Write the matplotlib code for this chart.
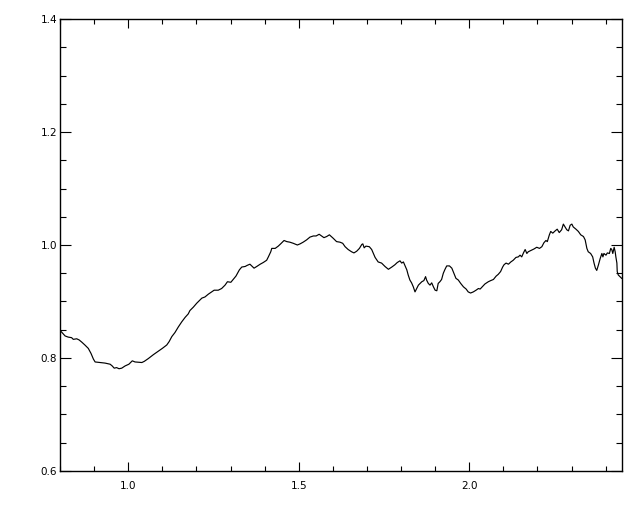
import matplotlib
matplotlib.use('Agg')
import matplotlib.pyplot as plt
from matplotlib.ticker import MultipleLocator

# spectrum
wave = [0.800, 0.803, 0.815, 0.824, 0.834, 0.839, 0.849, 0.856, 0.864, 0.873, 0.883,
        0.891, 0.898, 0.903, 0.917, 0.932, 0.947, 0.953, 0.959, 0.966, 0.973,
        0.981, 0.991, 1.002, 1.012, 1.020, 1.040, 1.047, 1.059, 1.074, 1.088,
        1.100, 1.113, 1.120, 1.128, 1.137, 1.147, 1.157, 1.167, 1.176,
        1.181, 1.191, 1.201, 1.216, 1.225, 1.235, 1.245, 1.252, 1.264, 1.274,
        1.284, 1.291, 1.301, 1.308, 1.316, 1.326, 1.333, 1.343, 1.349, 1.357,
        1.362, 1.369, 1.377, 1.387, 1.396, 1.406, 1.411, 1.418, 1.421, 1.431,
        1.440, 1.447, 1.457, 1.465, 1.474, 1.484, 1.496, 1.504, 1.513, 1.523,
        1.533, 1.543, 1.551, 1.560, 1.567, 1.574, 1.582, 1.590,
        1.601, 1.611, 1.621, 1.629, 1.636, 1.645, 1.655, 1.662, 1.670, 1.678,
        1.685, 1.688, 1.692, 1.697, 1.707, 1.714, 1.719, 1.724, 1.733, 1.743,
        1.753, 1.763, 1.773, 1.782, 1.789, 1.797, 1.802, 1.807, 1.812, 1.817,
        1.821, 1.826, 1.831, 1.836, 1.841, 1.846, 1.851, 1.856, 1.861, 1.867,
        1.872, 1.875, 1.880, 1.885, 1.890, 1.895, 1.900, 1.905, 1.909, 1.914,
        1.919, 1.924, 1.929, 1.934, 1.942, 1.949, 1.955, 1.961, 1.968, 1.975,
        1.983, 1.991, 1.997,
        2.004, 2.012, 2.020, 2.027, 2.032, 2.040, 2.046, 2.056, 2.063, 2.071,
        2.079, 2.085, 2.092, 2.098, 2.102, 2.108, 2.115, 2.122, 2.129, 2.137,
        2.144, 2.149, 2.154, 2.159, 2.164, 2.169, 2.173, 2.183, 2.190, 2.198,
        2.206, 2.213, 2.219, 2.225, 2.229, 2.235, 2.239, 2.245, 2.252, 2.258,
        2.264, 2.271, 2.276, 2.281, 2.286, 2.291, 2.296, 2.301, 2.305, 2.313,
        2.320, 2.327, 2.335, 2.340, 2.345, 2.349, 2.356, 2.362, 2.366, 2.370,
        2.374, 2.379, 2.384, 2.389, 2.392, 2.395, 2.401, 2.405, 2.411, 2.415,
        2.418, 2.421, 2.425, 2.428, 2.430, 2.433, 2.434, 2.437, 2.442, 2.447]

flux = [0.849, 0.847, 0.839, 0.837, 0.836, 0.833, 0.834, 0.832, 0.828, 0.823, 0.817,
        0.808, 0.798, 0.793, 0.792, 0.791, 0.789, 0.786, 0.782, 0.783, 0.781,
        0.782, 0.786, 0.789, 0.795, 0.793, 0.792, 0.794, 0.799, 0.806, 0.812,
        0.817, 0.823, 0.829, 0.838, 0.845, 0.855, 0.864, 0.872, 0.878,
        0.884, 0.890, 0.897, 0.906, 0.908, 0.913, 0.917, 0.920, 0.920, 0.923,
        0.929, 0.935, 0.934, 0.939, 0.945, 0.956, 0.961, 0.962, 0.964, 0.966,
        0.963, 0.959, 0.962, 0.966, 0.969, 0.973, 0.979, 0.988, 0.994, 0.994,
        0.998, 1.002, 1.008, 1.006, 1.005, 1.003, 1.000, 1.002, 1.005, 1.009,
        1.014, 1.016, 1.016, 1.019, 1.016, 1.013, 1.015, 1.018,
        1.012, 1.006, 1.005, 1.003, 0.997, 0.992, 0.988, 0.986, 0.989, 0.994,
        1.001, 1.002, 0.995, 0.998, 0.997, 0.992, 0.985, 0.978, 0.970, 0.968,
        0.962, 0.957, 0.961, 0.965, 0.969, 0.972, 0.968, 0.970, 0.963, 0.956,
        0.947, 0.938, 0.933, 0.926, 0.917, 0.923, 0.929, 0.932, 0.935, 0.937,
        0.944, 0.938, 0.932, 0.929, 0.933, 0.926, 0.920, 0.919, 0.932, 0.935,
        0.939, 0.950, 0.957, 0.963, 0.963, 0.959, 0.950, 0.941, 0.938, 0.932,
        0.926, 0.922, 0.917,
        0.915, 0.917, 0.920, 0.923, 0.922, 0.927, 0.931, 0.935, 0.937, 0.939,
        0.945, 0.948, 0.953, 0.961, 0.965, 0.968, 0.966, 0.970, 0.973, 0.978,
        0.979, 0.982, 0.979, 0.986, 0.992, 0.985, 0.988, 0.991, 0.993, 0.996,
        0.994, 0.997, 1.004, 1.008, 1.006, 1.018, 1.024, 1.021, 1.025, 1.028,
        1.022, 1.027, 1.037, 1.032, 1.027, 1.025, 1.035, 1.037, 1.032, 1.028,
        1.024, 1.018, 1.015, 1.009, 0.994, 0.988, 0.985, 0.979, 0.968, 0.959,
        0.955, 0.965, 0.976, 0.985, 0.979, 0.985, 0.982, 0.986, 0.985, 0.994,
        0.992, 0.985, 0.996, 0.988, 0.979, 0.968, 0.953, 0.947, 0.944, 0.941]

fig = plt.figure(figsize=(6.4, 5.12), dpi=100, facecolor='white')
ax = fig.add_axes([60/640, 1 - 471/512, 562/640, 452/512])

ax.plot(wave, flux, color='black', linewidth=0.85)

ax.set_xlim(0.8, 2.448)
ax.set_ylim(0.6, 1.4)

ax.xaxis.set_major_locator(MultipleLocator(0.5))
ax.xaxis.set_minor_locator(MultipleLocator(0.1))
ax.yaxis.set_major_locator(MultipleLocator(0.2))
ax.yaxis.set_minor_locator(MultipleLocator(0.05))
ax.xaxis.set_major_formatter(plt.FormatStrFormatter('%.1f'))
ax.yaxis.set_major_formatter(plt.FormatStrFormatter('%.1f'))

for sp in ax.spines.values():
    sp.set_linewidth(1.0)

ax.tick_params(axis='x', which='both', direction='in', top=True, width=0.8,
               labelsize=7.5, pad=7)
ax.tick_params(axis='x', which='major', length=6.5)
ax.tick_params(axis='x', which='minor', length=3.6)
ax.tick_params(axis='y', which='both', direction='in', right=True, width=0.8,
               labelsize=7.5, pad=2)
ax.tick_params(axis='y', which='major', length=8)
ax.tick_params(axis='y', which='minor', length=4.3)

plt.savefig('out.png', dpi=100, facecolor='white')
